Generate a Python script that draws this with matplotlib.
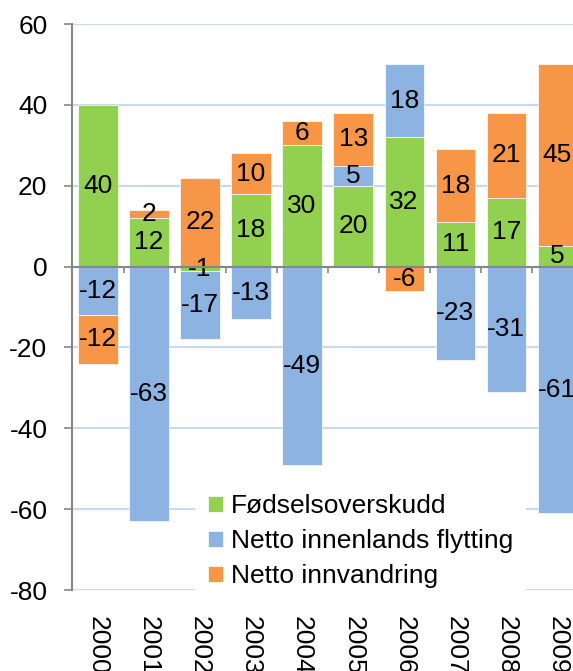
import matplotlib
matplotlib.use('Agg')
import matplotlib.pyplot as plt
import numpy as np

plt.rcParams['font.family'] = ['Liberation Sans', 'DejaVu Sans']
plt.rcParams['axes.unicode_minus'] = False

years = ['2000', '2001', '2002', '2003', '2004', '2005', '2006', '2007', '2008', '2009']
fodsel = [40, 12, -1, 18, 30, 20, 32, 11, 17, 5]
innenlands = [-12, -63, -17, -13, -49, 5, 18, -23, -31, -61]
innvandring = [-12, 2, 22, 10, 6, 13, -6, 18, 21, 45]

series = [(fodsel, 'Fødselsoverskudd', '#92d050'),
          (innenlands, 'Netto innenlands flytting', '#8db3e2'),
          (innvandring, 'Netto innvandring', '#f79646')]

fs = 19
x = np.arange(len(years))
fig = plt.figure(figsize=(5.73, 6.71), dpi=100)
ax = fig.add_axes([0.1265, 0.1207, 0.8905, 0.8435])

pos = np.zeros(len(years))
neg = np.zeros(len(years))
for vals, name, col in series:
    v = np.array(vals, dtype=float)
    bottom = np.where(v >= 0, pos, neg)
    bars = ax.bar(x, v, width=0.77, bottom=bottom, color=col, label=name,
                  edgecolor='white', linewidth=0.5, zorder=3)
    ax.bar_label(bars, labels=[str(int(a)) for a in v], label_type='center',
                 fontsize=fs, zorder=4)
    pos = pos + np.where(v >= 0, v, 0)
    neg = neg + np.where(v < 0, v, 0)

ax.set_xlim(-0.5, 9.5)
ax.set_ylim(-80, 60)
ax.set_yticks(range(-80, 61, 20))
ax.yaxis.grid(True, color='#c6d9f1', linewidth=1.5, zorder=0)
ax.set_axisbelow(True)
ax.tick_params(axis='y', labelsize=fs, length=6, width=1.2, color='#868686', pad=12)

for s in ['top', 'right']:
    ax.spines[s].set_visible(False)
ax.spines['left'].set_color('#868686')
ax.spines['left'].set_linewidth(1.5)
ax.spines['bottom'].set_position(('data', 0))
ax.spines['bottom'].set_color('#868686')
ax.spines['bottom'].set_linewidth(1.5)
ax.spines['bottom'].set_zorder(5)
ax.set_xticks(np.arange(-0.5, 10, 1))
ax.set_xticklabels([])
ax.tick_params(axis='x', length=4, width=1.2, color='#868686', direction='out')

sec = ax.secondary_xaxis(0)
sec.set_xticks(x)
sec.set_xticklabels(years, rotation=270, fontsize=fs)
sec.tick_params(length=0, pad=19)
sec.spines['bottom'].set_visible(False)

leg = ax.legend(loc='lower left', bbox_to_anchor=(0.24, -0.02), fontsize=fs,
                frameon=True, fancybox=False, handlelength=0.55, handleheight=0.55,
                handletextpad=0.3, labelspacing=0.42, borderpad=0.5,
                borderaxespad=0)
leg.get_frame().set_facecolor('white')
leg.get_frame().set_edgecolor('none')
leg.get_frame().set_alpha(1)
leg.set_zorder(6)

plt.savefig('out.png', dpi=100)
